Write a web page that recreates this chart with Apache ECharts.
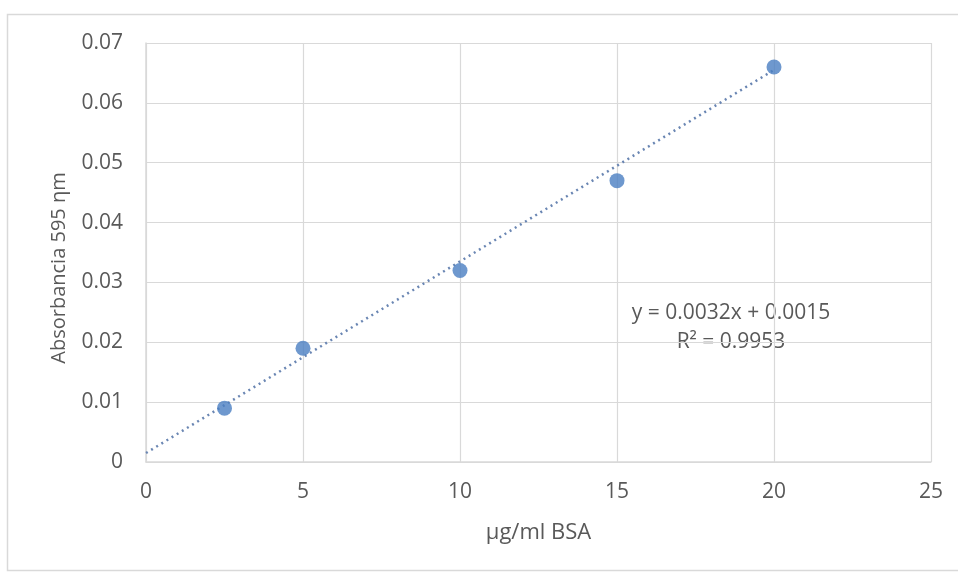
<!DOCTYPE html>
<html><head><meta charset="utf-8">
<script src="https://cdn.jsdelivr.net/npm/echarts@6/dist/echarts.min.js"></script>
<style>html,body{margin:0;padding:0;background:#fff}#c{width:958px;height:574px}</style>
</head><body><div id="c"></div>
<script>
const xValues = [2.5, 5, 10, 15, 20];
const yValues = [0.009, 0.019, 0.032, 0.047, 0.066];
const trendX = [0, 20];
const trendY = [0.0015, 0.0655];
const equationText = 'y = 0.0032x + 0.0015';
const r2Text = 'R² = 0.9953';
const xTitle = 'µg/ml BSA';
const yTitle = 'Absorbancia 595 ηm';

const font = '"Open Sans", "Noto Sans", sans-serif';
const chart = echarts.init(document.getElementById('c'));
chart.setOption({
  backgroundColor: '#fff',
  animation: false,
  textStyle: { fontFamily: font },
  grid: { left: 146, right: 27, top: 43, bottom: 112, containLabel: false },
  xAxis: {
    type: 'value', min: 0, max: 25, interval: 5,
    name: xTitle, nameLocation: 'middle', nameGap: 60,
    nameTextStyle: { color: '#595959', fontSize: 22, fontFamily: font },
    axisLine: { show: true, lineStyle: { color: '#d9d9d9', width: 1.5 } },
    axisTick: { show: false },
    axisLabel: { color: '#595959', fontSize: 21, margin: 20, fontFamily: font },
    splitLine: { show: true, lineStyle: { color: '#d9d9d9', width: 1.2 } }
  },
  yAxis: {
    type: 'value', min: 0, max: 0.07, interval: 0.01,
    axisLine: { show: true, lineStyle: { color: '#d9d9d9', width: 1.5 } },
    axisTick: { show: false },
    axisLabel: { color: '#595959', fontSize: 21, margin: 23, fontFamily: font,
      formatter: v => (Math.round(v * 100) / 100).toString() },
    splitLine: { show: true, lineStyle: { color: '#d9d9d9', width: 1.2 } }
  },
  graphic: [
    { type: 'rect', shape: { x: 7.5, y: 14.5, width: 960, height: 556 }, style: { fill: 'none', stroke: '#d9d9d9', lineWidth: 1.5 }, silent: true },
    { type: 'text', x: 59, y: 268, rotation: Math.PI / 2,
      style: { text: yTitle, fill: '#595959', font: '20px ' + font, align: 'center', verticalAlign: 'middle' } },
    { type: 'text', x: 731, y: 313,
      style: { text: equationText, fill: '#595959', font: '21px ' + font, align: 'center', verticalAlign: 'middle' } },
    { type: 'text', x: 731, y: 342,
      style: { text: r2Text, fill: '#595959', font: '21px ' + font, align: 'center', verticalAlign: 'middle' } }
  ],
  series: [
    {
      type: 'line', data: trendX.map((x, i) => [x, trendY[i]]),
      symbol: 'none', z: 2,
      lineStyle: { color: '#6a86b3', width: 2.5, type: [2, 4] }
    },
    {
      type: 'scatter', data: xValues.map((x, i) => [x, yValues[i]]),
      symbol: 'circle', symbolSize: 15, z: 3,
      itemStyle: { color: '#4a7ec2' }
    }
  ]
});
</script></body></html>
